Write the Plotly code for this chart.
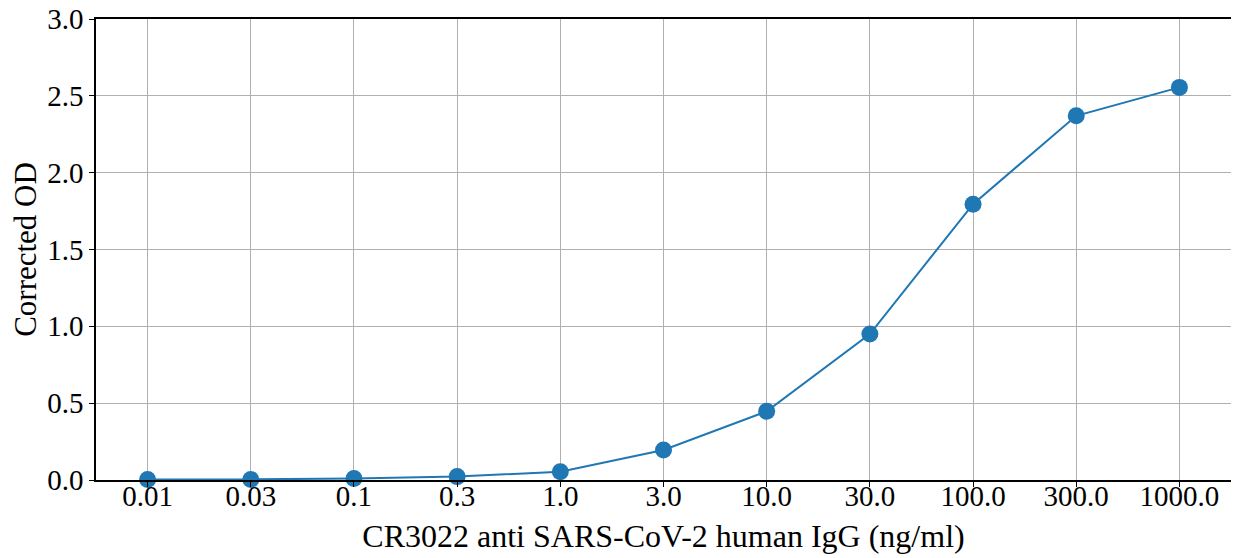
import plotly.graph_objects as go

concentrations = ["0.01", "0.03", "0.1", "0.3", "1.0", "3.0", "10.0", "30.0", "100.0", "300.0", "1000.0"]
corrected_od = [0.004, 0.004, 0.01, 0.022, 0.054, 0.195, 0.447, 0.95, 1.795, 2.37, 2.555]
y_ticks = [0.0, 0.5, 1.0, 1.5, 2.0, 2.5, 3.0]

fig = go.Figure()
fig.add_trace(go.Scatter(
    x=concentrations, y=corrected_od, mode="lines+markers",
    line=dict(color="#1f77b4", width=2),
    marker=dict(color="#1f77b4", size=17),
    cliponaxis=False,
))

fam = "Liberation Serif, Times New Roman, serif"
tick_font = dict(family=fam, size=29, color="black")
title_font = dict(family=fam, size=32, color="black")
# The page body adds an 8px offset; width/height/margins compensate for it.
fig.update_layout(
    width=1231, height=550,
    margin=dict(l=88, r=8, t=11, b=78, autoexpand=False),
    paper_bgcolor="white", plot_bgcolor="white",
    font=tick_font, showlegend=False,
)
fig.update_xaxes(
    type="category", range=[-0.5, 10.5],
    title=dict(text="CR3022 anti SARS-CoV-2 human IgG (ng/ml)", font=title_font, standoff=14),
    showgrid=True, gridcolor="#b0b0b0", gridwidth=1,
    showline=True, linecolor="black", linewidth=1.5, mirror=True,
    ticks="outside", ticklen=5, tickcolor="black", tickfont=tick_font,
    ticklabelstandoff=-16, ticklabeloverflow="allow",
)
fig.update_yaxes(
    range=[0, 3], tickvals=y_ticks, ticktext=[f"{v:.1f}" for v in y_ticks],
    title=dict(text="Corrected OD", font=dict(family=fam, size=31, color="black"), standoff=6),
    showgrid=True, gridcolor="#b0b0b0", gridwidth=1, zeroline=False,
    showline=True, linecolor="black", linewidth=1.5, mirror=True,
    ticks="outside", ticklen=5, tickcolor="black", tickfont=tick_font,
    ticklabeloverflow="allow",
)
fig.write_html("out.html")
